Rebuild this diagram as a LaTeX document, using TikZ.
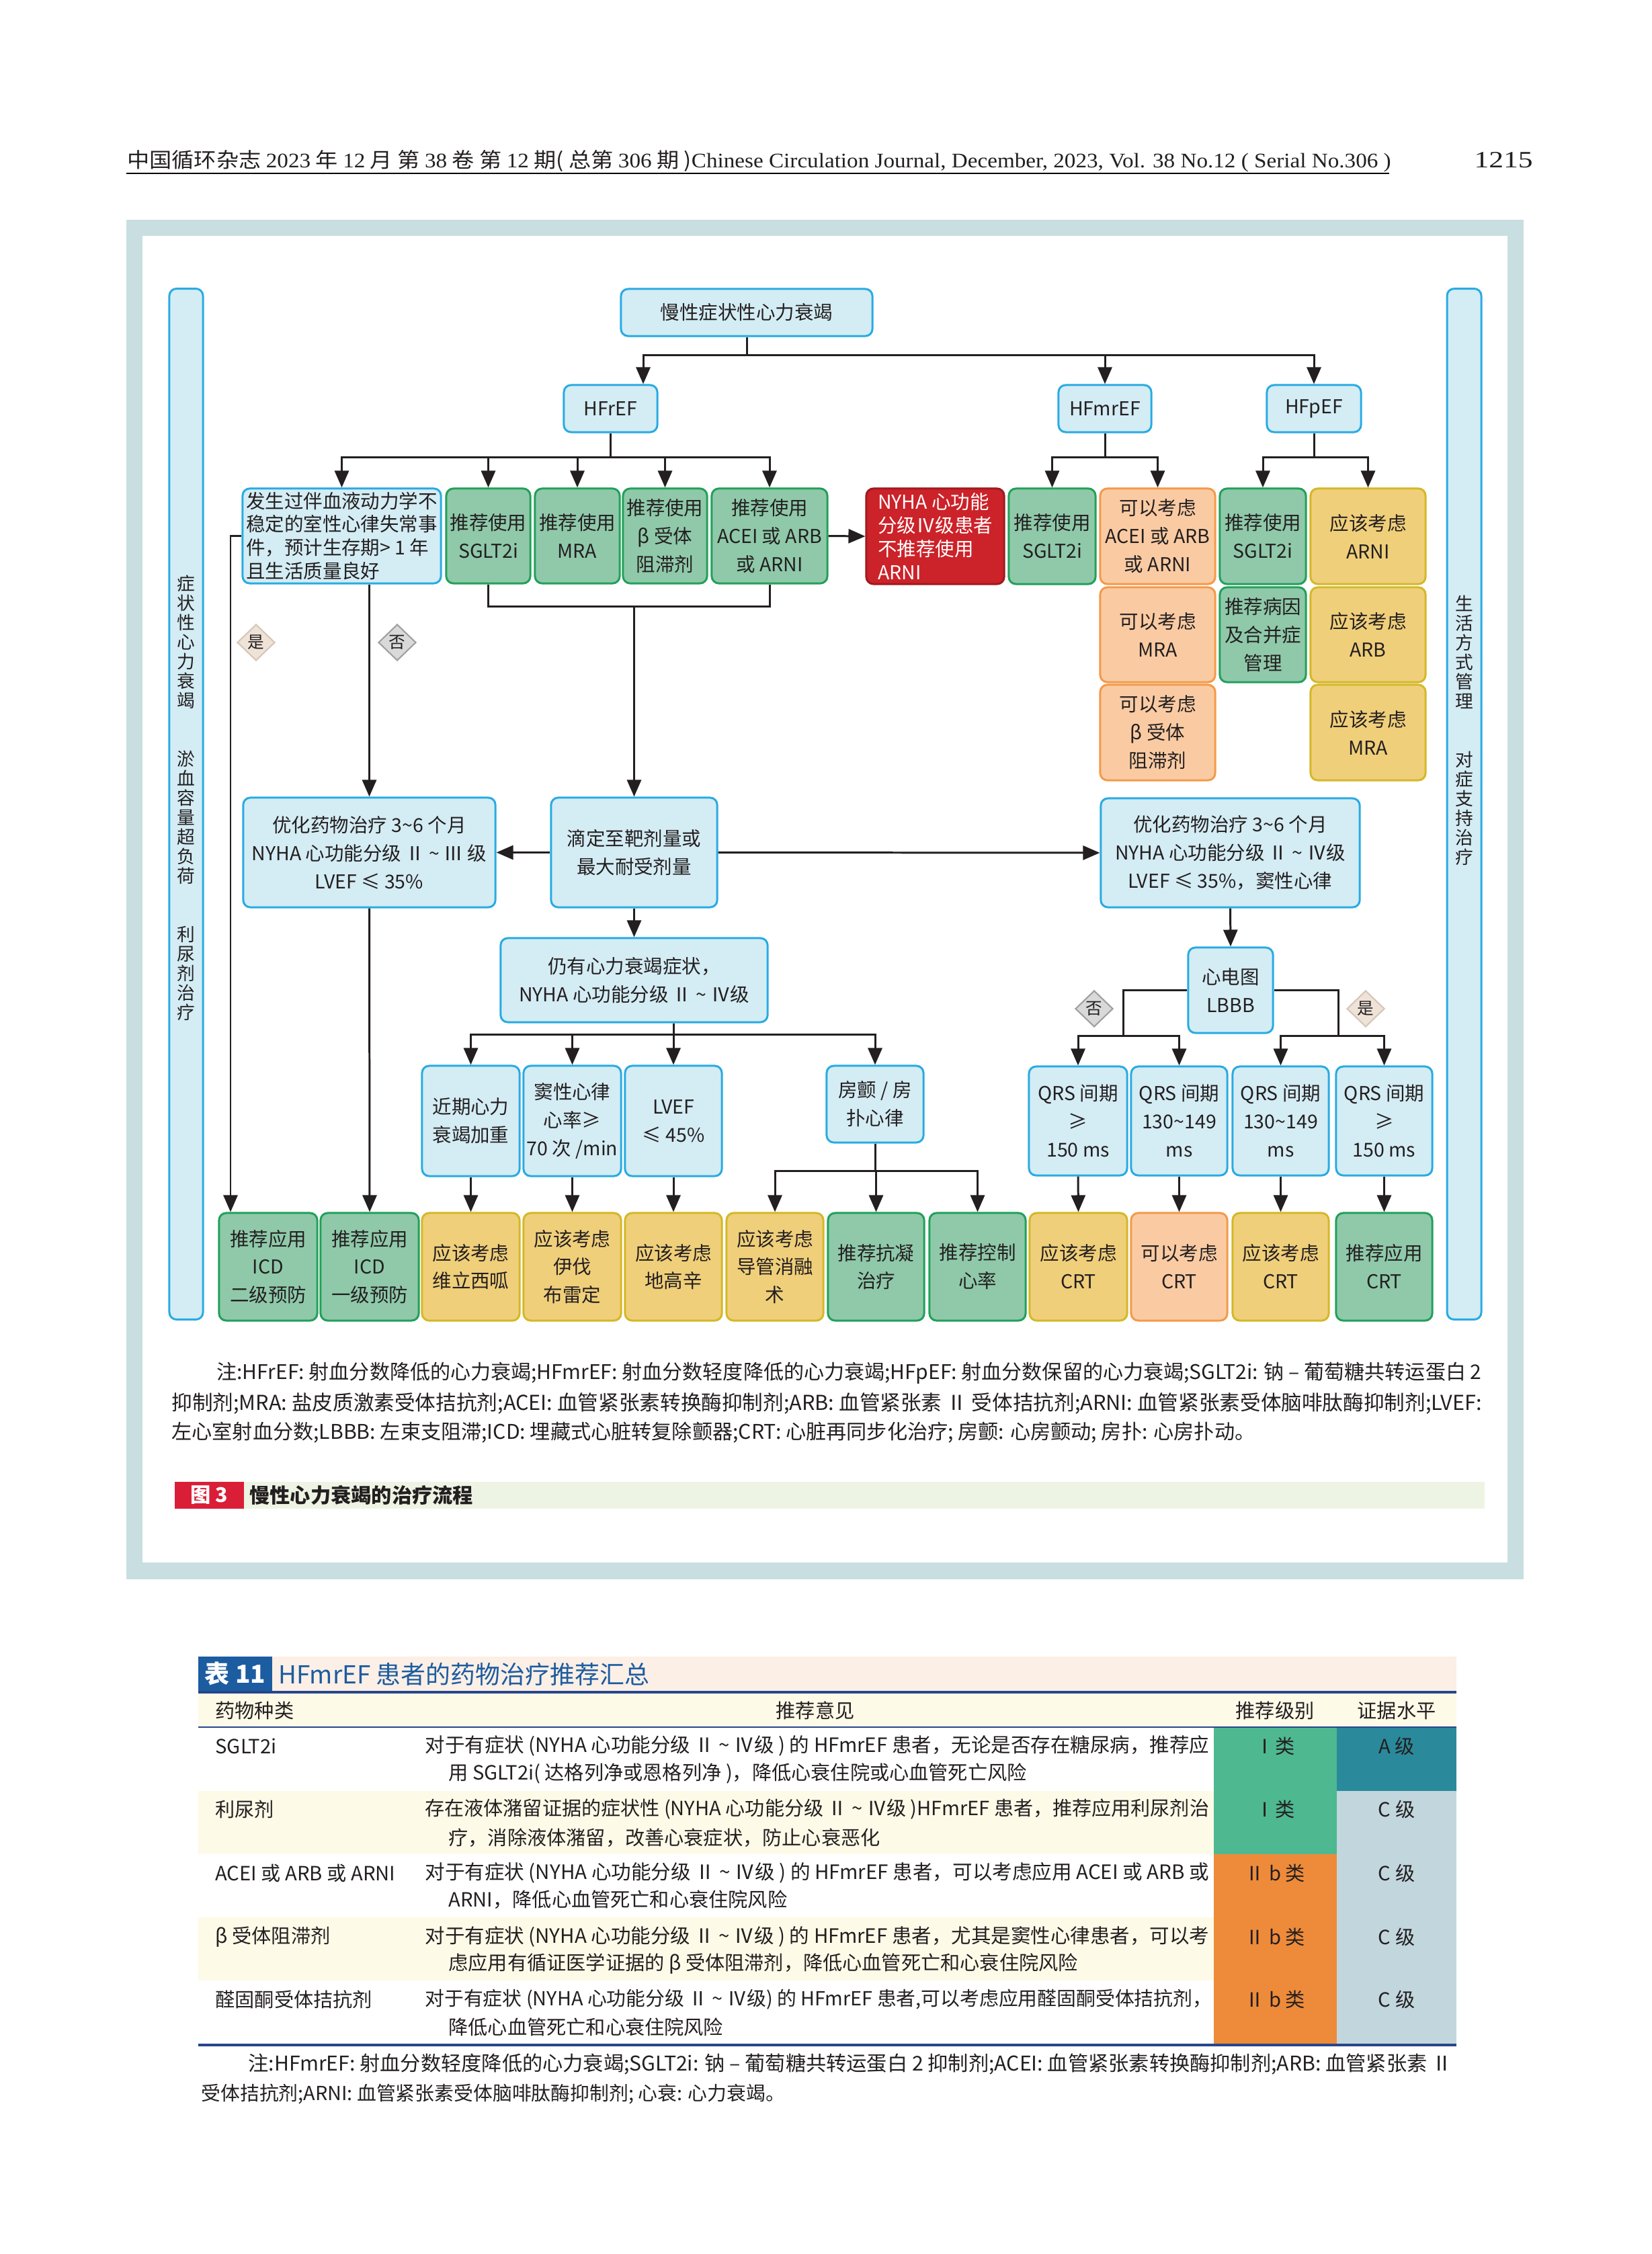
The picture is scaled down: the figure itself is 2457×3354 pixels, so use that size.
\documentclass[tikz,border=0pt]{standalone}
\usepackage{fontspec}
\usepackage{graphicx}
\setmainfont{Noto Sans CJK SC}
\newfontfamily\tms{Liberation Serif}
\usetikzlibrary{arrows.meta,shapes.geometric,calc}

\definecolor{framec}{RGB}{200,222,225}
\definecolor{bfill}{RGB}{212,236,244}
\definecolor{bdraw}{RGB}{41,171,226}
\definecolor{gfill}{RGB}{143,201,170}
\definecolor{gdraw}{RGB}{34,160,90}
\definecolor{ofill}{RGB}{250,203,163}
\definecolor{odraw}{RGB}{243,154,74}
\definecolor{yfill}{RGB}{240,207,122}
\definecolor{ydraw}{RGB}{212,184,40}
\definecolor{rfill}{RGB}{204,34,41}
\definecolor{rdraw}{RGB}{160,26,30}
\definecolor{txt}{RGB}{35,31,32}
\definecolor{nofill}{RGB}{217,217,217}
\definecolor{nodraw}{RGB}{160,160,160}
\definecolor{yesfill}{RGB}{239,227,216}
\definecolor{yesdraw}{RGB}{214,198,184}
\definecolor{capbar}{RGB}{238,244,228}
\definecolor{capred}{RGB}{218,30,55}
\definecolor{tblue}{RGB}{28,92,160}
\definecolor{tline}{RGB}{40,70,140}
\definecolor{cream}{RGB}{253,250,232}
\definecolor{peach}{RGB}{252,239,230}
\definecolor{clsI}{RGB}{78,184,145}
\definecolor{clsII}{RGB}{238,139,58}
\definecolor{levA}{RGB}{42,138,155}
\definecolor{levC}{RGB}{194,214,222}

\newcommand\boxfont{\fontsize{8.1pt}{11.9pt}\selectfont}
\newcommand\tightfont{\fontsize{8.1pt}{9.9pt}\selectfont}
\newcommand\vertfont{\fontsize{7.6pt}{8.25pt}\selectfont}
\newcommand\tabfont{\fontsize{8.3pt}{11pt}\selectfont}
\newcommand\notefont{\fontsize{8.2pt}{10pt}\selectfont}
\newcommand\capfont{\fontsize{8.6pt}{10pt}\selectfont}
\newcommand\ttlfont{\fontsize{10.5pt}{12pt}\selectfont}
\newcommand\diafont{\fontsize{7pt}{8pt}\selectfont}
\newcommand\tld{\textasciitilde}

\begin{document}
\begin{tikzpicture}[x=0.01cm, y=-0.01cm, line width=0.85pt,
  every node/.style={text=txt},
  box/.style={rounded corners=3pt, align=center, inner sep=0pt, font=\boxfont},
  bbox/.style={box, fill=bfill, draw=bdraw},
  gbox/.style={box, fill=gfill, draw=gdraw},
  obox/.style={box, fill=ofill, draw=odraw},
  ybox/.style={box, fill=yfill, draw=ydraw},
  rbox/.style={box, fill=rfill, draw=rdraw, text=white, align=left, font=\tightfont},
  arr/.style={draw=txt, -{Triangle[length=0.25cm, width=0.21cm]}},
  ln/.style={draw=txt},
  dia/.style={diamond, aspect=1, minimum width=0.56cm, minimum height=0.54cm, inner sep=0pt, line width=0.6pt, font=\diafont},
  txtline/.style={anchor=west, inner sep=0pt},
]
  \useasboundingbox (0,0) rectangle (2457,3354);
  \fill[white] (0,0) rectangle (2457,3354);

  % page header
  \node[anchor=base west, inner sep=0pt] (hdr) at (188,249) {\resizebox{18.79cm}{0.26cm}{中国循环杂志 {\tms 2023} 年 {\tms 12} 月 第 {\tms 38} 卷 第 {\tms 12} 期( 总第 {\tms 306} 期 ){\tms Chinese Circulation Journal, December, 2023, Vol. 38 No.12 ( Serial No.306 )}}};
  \draw[line width=0.6pt] (188,258) -- (2067,258);
  \node[anchor=base, inner sep=0pt] (pgno) at (2237,249) {\resizebox{0.87cm}{0.23cm}{\tms 1215}};

  % figure frame
  \fill[framec] (188,327) rectangle (2267,2350);
  \fill[white] (212,351) rectangle (2243,2325);

  % side bars
  \node[bbox, minimum width=0.50cm, minimum height=15.33cm] (sideL) at (277,1196.5) {};
  \node[bbox, minimum width=0.51cm, minimum height=15.33cm] (sideR) at (2178.5,1196.5) {};
  \node[font=\vertfont, align=center, inner sep=0pt] (sideLt) at (277,1187.5) {症\\状\\性\\心\\力\\衰\\竭\\[16.5pt]淤\\血\\容\\量\\超\\负\\荷\\[16.5pt]利\\尿\\剂\\治\\疗};
  \node[font=\vertfont, align=center, inner sep=0pt] (sideRt) at (2178.5,1087) {生\\活\\方\\式\\管\\理\\[16.5pt]对\\症\\支\\持\\治\\疗};

  % top levels
  \node[bbox, minimum width=3.74cm, minimum height=0.70cm] (chf) at (1111,465) {慢性症状性心力衰竭};
  \node[bbox, minimum width=1.39cm, minimum height=0.70cm] (hfref) at (908.5,608) {HFrEF};
  \node[bbox, minimum width=1.38cm, minimum height=0.70cm] (hfmref) at (1644,608) {HFmrEF};
  \node[bbox, minimum width=1.40cm, minimum height=0.70cm] (hfpef) at (1955,608) {HFpEF};

  \coordinate (bus1) at (1111,528);
  \draw[ln] (chf.south) -- (bus1);
  \draw[arr] (bus1) -| ($(hfref.north)+(48.5,0)$);
  \draw[arr] (bus1) -| (hfmref.north);
  \draw[arr] (bus1) -| (hfpef.north);

  % drug row
  \node[bbox, align=left, font=\tightfont, minimum width=2.95cm, minimum height=1.41cm] (unstable) at (508.5,797.5) {发生过伴血液动力学不\\稳定的室性心律失常事\\件，预计生存期> 1 年\\且生活质量良好};
  \node[gbox, minimum width=1.25cm, minimum height=1.41cm] (frsglt) at (726.5,797.5) {推荐使用\\SGLT2i};
  \node[gbox, minimum width=1.26cm, minimum height=1.41cm] (frmra) at (859,797.5) {推荐使用\\MRA};
  \node[gbox, minimum width=1.25cm, minimum height=1.41cm] (frbeta) at (989.5,797.5) {推荐使用\\β 受体\\阻滞剂};
  \node[gbox, minimum width=1.72cm, minimum height=1.41cm] (fracei) at (1145,797.5) {推荐使用\\ACEI 或 ARB\\或 ARNI};
  \node[rbox, minimum width=2.05cm, minimum height=1.42cm] (nyha4) at (1391.5,798) {NYHA 心功能\\分级Ⅳ级患者\\不推荐使用\\ARNI};
  \node[gbox, minimum width=1.29cm, minimum height=1.42cm] (mrsglt) at (1565.5,798) {推荐使用\\SGLT2i};
  \node[obox, minimum width=1.71cm, minimum height=1.42cm] (mracei) at (1722.5,798) {可以考虑\\ACEI 或 ARB\\或 ARNI};
  \node[obox, minimum width=1.71cm, minimum height=1.41cm] (mrmra) at (1722.5,944.5) {可以考虑\\MRA};
  \node[obox, minimum width=1.71cm, minimum height=1.42cm] (mrbeta) at (1722.5,1090) {可以考虑\\β 受体\\阻滞剂};
  \node[gbox, minimum width=1.28cm, minimum height=1.42cm] (pefsglt) at (1879,798) {推荐使用\\SGLT2i};
  \node[gbox, minimum width=1.28cm, minimum height=1.41cm] (pefcause) at (1879,944.5) {推荐病因\\及合并症\\管理};
  \node[ybox, minimum width=1.71cm, minimum height=1.42cm] (pefarni) at (2035.5,798) {应该考虑\\ARNI};
  \node[ybox, minimum width=1.71cm, minimum height=1.41cm] (pefarb) at (2035.5,944.5) {应该考虑\\ARB};
  \node[ybox, minimum width=1.71cm, minimum height=1.42cm] (pefmra) at (2035.5,1090) {应该考虑\\MRA};

  \coordinate (bus2) at (908.5,680);
  \draw[ln] (hfref.south) -- (bus2);
  \draw[arr] (bus2) -| (unstable.north);
  \draw[arr] (bus2) -| (frsglt.north);
  \draw[arr] (bus2) -| (frmra.north);
  \draw[arr] (bus2) -| (frbeta.north);
  \draw[arr] (bus2) -| (fracei.north);
  \coordinate (bus3) at (1644,680);
  \draw[ln] (hfmref.south) -- (bus3);
  \draw[arr] (bus3) -| (mrsglt.north);
  \draw[arr] (bus3) -| (mracei.north);
  \coordinate (bus4) at (1955,680);
  \draw[ln] (hfpef.south) -- (bus4);
  \draw[arr] (bus4) -| (pefsglt.north);
  \draw[arr] (bus4) -| (pefarni.north);
  \draw[arr] (fracei.east) -- (nyha4.west);

  % optimisation row
  \node[bbox, minimum width=3.75cm, minimum height=1.63cm] (optL) at (549.5,1268.5) {优化药物治疗 3\tld6 个月\\NYHA 心功能分级 Ⅱ \tld{} Ⅲ 级\\LVEF ≤ 35\%};
  \node[bbox, minimum width=2.47cm, minimum height=1.63cm] (titrate) at (943.5,1268.5) {滴定至靶剂量或\\最大耐受剂量};
  \node[bbox, minimum width=3.85cm, minimum height=1.62cm] (optR) at (1830.5,1269) {优化药物治疗 3\tld6 个月\\NYHA 心功能分级 Ⅱ \tld{} Ⅳ级\\LVEF ≤ 35\%，窦性心律};

  \coordinate (brk) at (943.5,902);
  \draw[ln] (frsglt.south) |- (brk);
  \draw[ln] (fracei.south) |- (brk);
  \draw[arr] (brk) -- (titrate.north);
  \draw[arr] (titrate.west) -- (optL.east);
  \draw[arr] (titrate.east) -- (optR.west);

  % yes / no from the first box
  \draw[arr] (unstable.south -| optL.north) -- (optL.north);
  \node[dia, fill=yesfill, draw=yesdraw] (yes1) at (381,956) {是};
  \node[dia, fill=nofill, draw=nodraw] (no1) at (591,956) {否};

  % still symptomatic
  \node[bbox, minimum width=3.97cm, minimum height=1.25cm] (remain) at (943.5,1458.5) {仍有心力衰竭症状，\\NYHA 心功能分级 Ⅱ \tld{} Ⅳ级};
  \draw[arr] (titrate.south) -- (remain.north);

  \node[bbox, minimum width=1.45cm, minimum height=1.64cm] (recent) at (700.5,1668) {近期心力\\衰竭加重};
  \node[bbox, minimum width=1.45cm, minimum height=1.64cm] (sinus) at (851.5,1668) {窦性心律\\心率≥\\70 次 /min};
  \node[bbox, minimum width=1.44cm, minimum height=1.64cm] (lvef) at (1002,1668) {LVEF\\≤ 45\%};
  \node[bbox, minimum width=1.44cm, minimum height=1.14cm] (af) at (1302,1643) {房颤 / 房\\扑心律};

  \coordinate (bus5) at (1002,1539);
  \draw[ln] (remain.south -| bus5) -- (bus5);
  \draw[arr] (bus5) -| (recent.north);
  \draw[arr] (bus5) -| (sinus.north);
  \draw[arr] (bus5) -| (lvef.north);
  \draw[arr] (bus5) -| (af.north);

  % ECG branch
  \node[bbox, minimum width=1.26cm, minimum height=1.27cm] (lbbb) at (1831,1473.5) {心电图\\LBBB};
  \draw[arr] (optR.south) -- (lbbb.north);
  \node[bbox, minimum width=1.46cm, minimum height=1.62cm] (qrsa) at (1604,1668) {QRS 间期\\≥\\150 ms};
  \node[bbox, minimum width=1.43cm, minimum height=1.62cm] (qrsb) at (1754.5,1668) {QRS 间期\\130\tld149\\ms};
  \node[bbox, minimum width=1.43cm, minimum height=1.62cm] (qrsc) at (1905.5,1668) {QRS 间期\\130\tld149\\ms};
  \node[bbox, minimum width=1.43cm, minimum height=1.62cm] (qrsd) at (2059.5,1668) {QRS 间期\\≥\\150 ms};

  \coordinate (noj) at (1671,1541);
  \coordinate (yesj) at (1991,1541);
  \draw[ln] (lbbb.west) -| (noj);
  \draw[arr] (noj) -| (qrsa.north);
  \draw[arr] (noj) -| (qrsb.north);
  \draw[ln] (lbbb.east) -| (yesj);
  \draw[arr] (yesj) -| (qrsc.north);
  \draw[arr] (yesj) -| (qrsd.north);
  \node[dia, fill=nofill, draw=nodraw] (no2) at (1628,1501) {否};
  \node[dia, fill=yesfill, draw=yesdraw] (yes2) at (2032,1501) {是};

  % bottom row
  \node[gbox, minimum width=1.46cm, minimum height=1.60cm] (icd2) at (399,1885) {推荐应用\\ICD\\二级预防};
  \node[gbox, minimum width=1.46cm, minimum height=1.60cm] (icd1) at (550,1885) {推荐应用\\ICD\\一级预防};
  \node[ybox, minimum width=1.45cm, minimum height=1.60cm] (veric) at (700.5,1885) {应该考虑\\维立西呱};
  \node[ybox, minimum width=1.45cm, minimum height=1.60cm] (ivab) at (851.5,1885) {应该考虑\\伊伐\\布雷定};
  \node[ybox, minimum width=1.44cm, minimum height=1.60cm] (digox) at (1002,1885) {应该考虑\\地高辛};
  \node[ybox, minimum width=1.44cm, minimum height=1.60cm] (ablat) at (1153,1885) {应该考虑\\导管消融\\术};
  \node[gbox, minimum width=1.43cm, minimum height=1.60cm] (anticoag) at (1303.5,1885) {推荐抗凝\\治疗};
  \node[gbox, minimum width=1.43cm, minimum height=1.60cm] (ratectl) at (1454.5,1885) {推荐控制\\心率};
  \node[ybox, minimum width=1.45cm, minimum height=1.60cm] (crta) at (1604.5,1885) {应该考虑\\CRT};
  \node[obox, minimum width=1.43cm, minimum height=1.60cm] (crtb) at (1754.5,1885) {可以考虑\\CRT};
  \node[ybox, minimum width=1.43cm, minimum height=1.60cm] (crtc) at (1905.5,1885) {应该考虑\\CRT};
  \node[gbox, minimum width=1.43cm, minimum height=1.60cm] (crtd) at (2059.5,1885) {推荐应用\\CRT};

  \draw[arr] (unstable.west) -| ($(icd2.north)+(-56,0)$);
  \draw[arr] (optL.south) -- (icd1.north);
  \draw[arr] (recent.south) -- (veric.north);
  \draw[arr] (sinus.south) -- (ivab.north);
  \draw[arr] (lvef.south) -- (digox.north);
  \coordinate (bus6) at (1302,1742);
  \draw[ln] (af.south) -- (bus6);
  \draw[arr] (bus6) -| (ablat.north);
  \draw[arr] (bus6) -| (anticoag.north);
  \draw[arr] (bus6) -| (ratectl.north);
  \draw[arr] (qrsa.south) -- (crta.north);
  \draw[arr] (qrsb.south) -- (crtb.north);
  \draw[arr] (qrsc.south) -- (crtc.north);
  \draw[arr] (qrsd.south) -- (crtd.north);

  % figure note and caption
  \node[txtline, font=\notefont] (fnote1) at (321,2043) {\resizebox{18.81cm}{!}{注:HFrEF: 射血分数降低的心力衰竭;HFmrEF: 射血分数轻度降低的心力衰竭;HFpEF: 射血分数保留的心力衰竭;SGLT2i: 钠 – 葡萄糖共转运蛋白 2}};
  \node[txtline, font=\notefont] (fnote2) at (254,2088) {\resizebox{19.48cm}{!}{抑制剂;MRA: 盐皮质激素受体拮抗剂;ACEI: 血管紧张素转换酶抑制剂;ARB: 血管紧张素 Ⅱ 受体拮抗剂;ARNI: 血管紧张素受体脑啡肽酶抑制剂;LVEF:}};
  \node[txtline, font=\notefont] (fnote3) at (254,2132) {\resizebox{16.11cm}{!}{左心室射血分数;LBBB: 左束支阻滞;ICD: 埋藏式心脏转复除颤器;CRT: 心脏再同步化治疗; 房颤: 心房颤动; 房扑: 心房扑动。}};
  \fill[capbar] (260,2205) rectangle (2209,2245);
  \node[fill=capred, text=white, minimum width=1.03cm, minimum height=0.40cm, inner sep=0pt, font=\capfont\bfseries] (figno) at (311.5,2225) {图 3};
  \node[txtline, font=\capfont\bfseries] (figcap) at (370,2225) {慢性心力衰竭的治疗流程};

  % table 11
  \fill[peach] (295,2465) rectangle (2167,2516);
  \node[fill=tblue, text=white, minimum width=1.10cm, minimum height=0.51cm, inner sep=0pt, font=\ttlfont\bfseries] (tabno) at (350,2490.5) {表 11};
  \node[txtline, text=tblue, font=\ttlfont] (tabttl) at (413,2491) {HFmrEF 患者的药物治疗推荐汇总};
  \fill[cream] (295,2518) rectangle (2167,2570);
  \fill[cream] (295,2665) rectangle (1806,2759);
  \fill[cream] (295,2853) rectangle (1806,2947);
  \fill[clsI] (1806,2570) rectangle (1989,2759);
  \fill[clsII] (1806,2759) rectangle (1989,3042);
  \fill[levA] (1989,2570) rectangle (2167,2665);
  \fill[levC] (1989,2665) rectangle (2167,3042);
  \draw[tline, line width=1pt] (295,2518) -- (2167,2518);
  \draw[tline, line width=0.6pt] (295,2570) -- (2167,2570);
  \draw[tline, line width=1pt] (295,3043) -- (2167,3043);

  \node[txtline, font=\tabfont] (hdrug) at (319,2545) {药物种类};
  \node[font=\tabfont, inner sep=0pt] (hadv) at (1213,2545) {推荐意见};
  \node[font=\tabfont, inner sep=0pt] (hcls) at (1897,2545) {推荐级别};
  \node[font=\tabfont, inner sep=0pt] (hlev) at (2078,2545) {证据水平};

  \node[txtline, font=\tabfont] (drug1) at (319,2598) {SGLT2i};
  \node[txtline, font=\tabfont] (adv1a) at (631,2598) {\resizebox{11.66cm}{!}{对于有症状 (NYHA 心功能分级 Ⅱ \tld{} Ⅳ级 ) 的 HFmrEF 患者，无论是否存在糖尿病，推荐应}};
  \node[txtline, font=\tabfont] (adv1b) at (666,2639) {用 SGLT2i( 达格列净或恩格列净 )，降低心衰住院或心血管死亡风险};
  \node[font=\tabfont, inner sep=0pt] (cls1) at (1897,2598) {Ⅰ类};
  \node[font=\tabfont, inner sep=0pt] (lev1) at (2078,2598) {A 级};

  \node[txtline, font=\tabfont] (drug2) at (319,2692) {利尿剂};
  \node[txtline, font=\tabfont] (adv2a) at (631,2692) {\resizebox{11.66cm}{!}{存在液体潴留证据的症状性 (NYHA 心功能分级 Ⅱ \tld{} Ⅳ级 )HFmrEF 患者，推荐应用利尿剂治}};
  \node[txtline, font=\tabfont] (adv2b) at (666,2735) {疗，消除液体潴留，改善心衰症状，防止心衰恶化};
  \node[font=\tabfont, inner sep=0pt] (cls2) at (1897,2692) {Ⅰ类};
  \node[font=\tabfont, inner sep=0pt] (lev2) at (2078,2692) {C 级};

  \node[txtline, font=\tabfont] (drug3) at (319,2787) {ACEI 或 ARB 或 ARNI};
  \node[txtline, font=\tabfont] (adv3a) at (631,2787) {\resizebox{11.66cm}{!}{对于有症状 (NYHA 心功能分级 Ⅱ \tld{} Ⅳ级 ) 的 HFmrEF 患者，可以考虑应用 ACEI 或 ARB 或}};
  \node[txtline, font=\tabfont] (adv3b) at (666,2827) {ARNI，降低心血管死亡和心衰住院风险};
  \node[font=\tabfont, inner sep=0pt] (cls3) at (1897,2787) {Ⅱ b 类};
  \node[font=\tabfont, inner sep=0pt] (lev3) at (2078,2787) {C 级};

  \node[txtline, font=\tabfont] (drug4) at (319,2882) {β 受体阻滞剂};
  \node[txtline, font=\tabfont] (adv4a) at (631,2882) {\resizebox{11.66cm}{!}{对于有症状 (NYHA 心功能分级 Ⅱ \tld{} Ⅳ级 ) 的 HFmrEF 患者，尤其是窦性心律患者，可以考}};
  \node[txtline, font=\tabfont] (adv4b) at (666,2922) {虑应用有循证医学证据的 β 受体阻滞剂，降低心血管死亡和心衰住院风险};
  \node[font=\tabfont, inner sep=0pt] (cls4) at (1897,2882) {Ⅱ b 类};
  \node[font=\tabfont, inner sep=0pt] (lev4) at (2078,2882) {C 级};

  \node[txtline, font=\tabfont] (drug5) at (319,2975) {醛固酮受体拮抗剂};
  \node[txtline, font=\tabfont] (adv5a) at (631,2975) {\resizebox{11.70cm}{!}{对于有症状 (NYHA 心功能分级 Ⅱ \tld{} Ⅳ级) 的 HFmrEF 患者,可以考虑应用醛固酮受体拮抗剂，}};
  \node[txtline, font=\tabfont] (adv5b) at (666,3016) {降低心血管死亡和心衰住院风险};
  \node[font=\tabfont, inner sep=0pt] (cls5) at (1897,2975) {Ⅱ b 类};
  \node[font=\tabfont, inner sep=0pt] (lev5) at (2078,2975) {C 级};

  % table note
  \node[txtline, font=\notefont] (tnote1) at (368,3072) {\resizebox{17.90cm}{!}{注:HFmrEF: 射血分数轻度降低的心力衰竭;SGLT2i: 钠 – 葡萄糖共转运蛋白 2 抑制剂;ACEI: 血管紧张素转换酶抑制剂;ARB: 血管紧张素 Ⅱ}};
  \node[txtline, font=\notefont] (tnote2) at (298,3116) {受体拮抗剂;ARNI: 血管紧张素受体脑啡肽酶抑制剂; 心衰: 心力衰竭。};
\end{tikzpicture}
\end{document}
